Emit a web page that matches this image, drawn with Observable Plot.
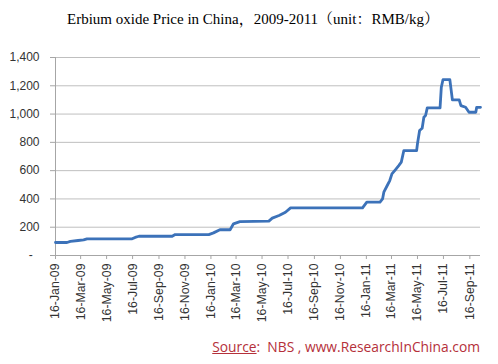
<!DOCTYPE html>
<html><head><meta charset="utf-8">
<script src="https://cdn.jsdelivr.net/npm/d3@7"></script>
<script src="https://cdn.jsdelivr.net/npm/@observablehq/plot@0.6"></script>
<style>
body{margin:0;background:#fff;width:498px;height:364px;overflow:hidden;position:relative}
#title{position:absolute;left:0;top:0;width:506px;height:38px;line-height:38px;text-align:center;font-family:"Liberation Serif","Noto Serif CJK SC","Noto Sans CJK SC",serif;font-size:15px;color:#000}
#chart{position:absolute;left:0;top:38px}
#src{position:absolute;right:18px;top:336px;height:22px;line-height:22px;font-family:"Open Sans",sans-serif;font-size:13.8px;color:#b5303a;white-space:pre}
</style></head><body>
<div id="title">Erbium oxide Price in China，2009-2011（unit：RMB/kg）</div>
<div id="chart"></div>
<div id="src"><u>Source</u>:  NBS , www.ResearchInChina.com</div>
<script>
const dates = ["2009-01-16","2009-02-12","2009-02-20","2009-03-10","2009-03-23","2009-03-31","2009-07-15","2009-07-22","2009-07-31","2009-10-17","2009-10-24","2010-01-11","2010-01-22","2010-02-06","2010-03-02","2010-03-10","2010-03-25","2010-06-01","2010-06-09","2010-06-25","2010-07-10","2010-07-22","2011-01-07","2011-01-17","2011-02-17","2011-02-23","2011-02-26","2011-03-06","2011-03-12","2011-03-17","2011-03-25","2011-04-02","2011-04-08","2011-04-14","2011-05-14","2011-05-16","2011-05-21","2011-05-27","2011-05-31","2011-06-04","2011-06-08","2011-07-08","2011-07-11","2011-07-15","2011-07-31","2011-08-06","2011-08-22","2011-08-26","2011-09-06","2011-09-14","2011-09-30","2011-10-02","2011-10-11"];
const prices = [92,92,100,106,110,118,118,128,136,136,148,148,160,182,182,224,240,243,264,283,306,337,337,377,377,400,448,495,530,577,606,636,660,742,742,790,884,900,978,990,1044,1044,1190,1244,1244,1100,1100,1060,1048,1013,1013,1048,1048];
const tickLabels = ["16-Jan-09","16-Mar-09","16-May-09","16-Jul-09","16-Sep-09","16-Nov-09","16-Jan-10","16-Mar-10","16-May-10","16-Jul-10","16-Sep-10","16-Nov-10","16-Jan-11","16-Mar-11","16-May-11","16-Jul-11","16-Sep-11"];
const yTicks = [0,200,400,600,800,1000,1200,1400];

const parse = d3.utcParse("%Y-%m-%d");
const parseTick = d3.utcParse("%d-%b-%y");
const data = dates.map((d,i)=>({date: parse(d), price: prices[i]}));
const tickDates = tickLabels.map(parseTick);
const x0 = parse("2009-01-16"), x1 = parse("2011-10-11");

const chart = Plot.plot({
  width: 498, height: 300,
  marginTop: 19, marginBottom: 83, marginLeft: 55, marginRight: 18,
  style: {fontFamily: "'Liberation Sans', Arial, sans-serif", fontSize: "12px", color: "#333", background: "white"},
  x: {type: "utc", domain: [x0, x1]},
  y: {domain: [0, 1400]},
  marks: [
    Plot.gridY(yTicks, {stroke: "#bfbfbf", strokeOpacity: 1}),
    Plot.ruleX([x0], {stroke: "#a6a6a6"}),
    Plot.ruleY([0], {stroke: "#a6a6a6"}),
    Plot.axisY(yTicks, {tickSize: 5, tickPadding: 11, stroke: "#a6a6a6", label: null, fill: "#333",
      tickFormat: d => d === 0 ? "-\u2007" : d3.format(",")(d)}),
    Plot.axisX(tickDates, {tickSize: 4, tickPadding: 4, tickRotate: -90, stroke: "#a6a6a6", label: null, fill: "#333", fontSize: 12.3,
      tickFormat: d3.utcFormat("%d-%b-%y")}),
    Plot.line(data, {x: "date", y: "price", stroke: "#3c72b9", strokeWidth: 2.8})
  ]
});
document.getElementById("chart").appendChild(chart);
</script>
</body></html>
